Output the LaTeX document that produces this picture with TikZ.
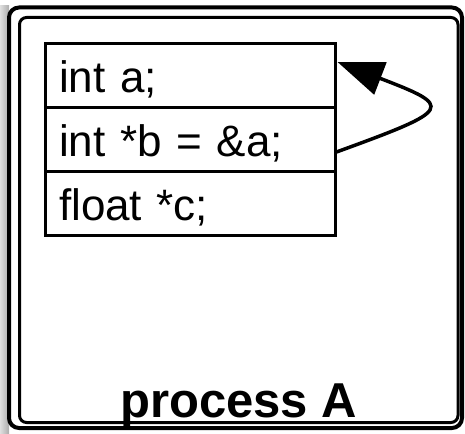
\documentclass[tikz,border=0pt]{standalone}
\usepackage{fontspec}
\setmainfont{Liberation Sans}
\usetikzlibrary{positioning, arrows.meta}

\begin{document}
\begin{tikzpicture}[x=1pt,y=1pt,
	var/.style={draw,line width=3pt,outer sep=0pt,minimum width=290pt,minimum height=64pt,text width=262pt,inner xsep=14pt,align=left,text height=36pt,text depth=3pt,font=\fontsize{44}{50}\selectfont},
	pointer/.style={line width=3.5pt,-{Triangle[length=46pt,width=34pt]}}]
	\useasboundingbox (0,0) rectangle (465,433);
	% shadow on the left
	\shade[left color=gray!25,right color=gray!65] (0,0) rectangle (9,427);
	% process frame
	\draw[line width=4pt,fill=white,rounded corners=10pt] (9,5) rectangle (462,425.5);
	\draw[line width=3pt,rounded corners=7pt] (19.5,10.5) rectangle (458,415.5);

	\node (a) at (190,357) [var] {int a;};
	\node (b) [var,below=0pt of a] {int *b = \&a;};
	\node (c) [var,below=0pt of b] {float *c;};

	% b points to a
	\draw[pointer] ([xshift=1.5pt,yshift=-12pt]b.east) .. controls +(20:125) and +(-21:125) .. ([xshift=2.5pt,yshift=14pt]a.east);

	\node (proc) at (238.75,16) [anchor=base,font=\bfseries\fontsize{49}{55}\selectfont] {process A};
\end{tikzpicture}
\end{document}
